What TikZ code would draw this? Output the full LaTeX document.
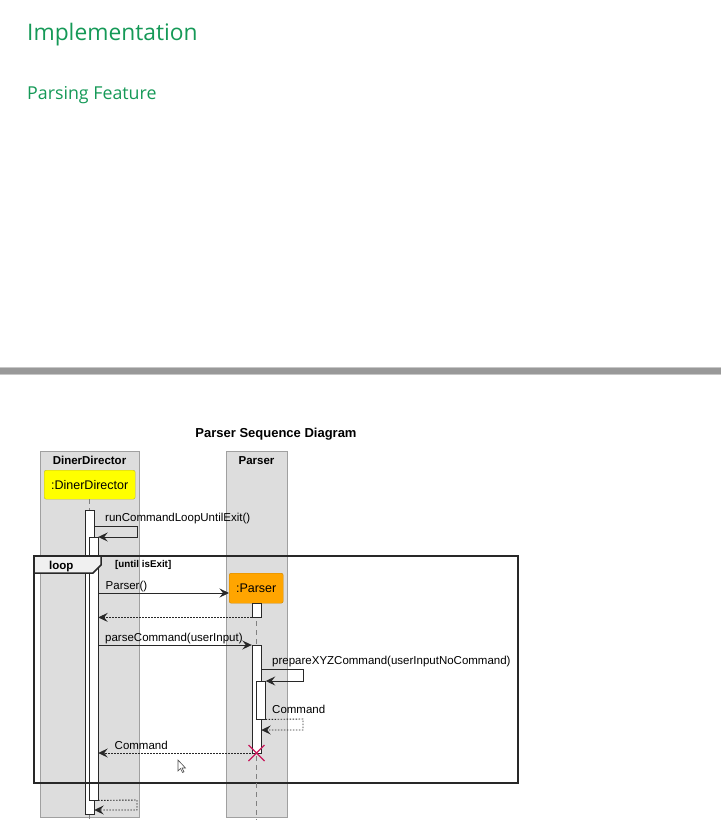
\documentclass[tikz,border=0pt]{standalone}
\usepackage{fontspec}
\setmainfont{Liberation Sans}
\newfontfamily\headfont{Open Sans}
\usetikzlibrary{arrows.meta,positioning}
\definecolor{cayman}{HTML}{159957}
\definecolor{lanegray}{HTML}{DDDDDD}
\definecolor{laneline}{HTML}{A0A0A0}
\definecolor{umlred}{HTML}{C8185A}
\definecolor{umlline}{HTML}{282828}
\definecolor{umlorange}{HTML}{FFA500}
\definecolor{umlyellow}{HTML}{FFFF00}
\begin{document}
\begin{tikzpicture}[x=1pt,y=-1pt,
  lane/.style={draw=laneline,fill=lanegray,anchor=north west,inner sep=0},
  lanetitle/.style={font=\fontsize{11.5}{13}\selectfont\bfseries,anchor=base},
  actor/.style={draw,rounded corners=2pt,anchor=north west,inner sep=0,font=\fontsize{12.5}{14}\selectfont},
  act/.style={draw=umlline,fill=white,anchor=north,minimum width=9,inner sep=0},
  msgtext/.style={font=\fontsize{11.5}{13}\selectfont,anchor=base west,inner sep=0},
  call/.style={draw=umlline,line width=0.9pt,-{Stealth[length=9.5pt,width=9pt,inset=3.5pt]}},
  reply/.style={call,dash pattern=on 1.5pt off 1.5pt},
  life/.style={draw=gray,dash pattern=on 5pt off 4pt}]
\useasboundingbox (0,0) rectangle (721,833);

\node[anchor=base west,inner sep=0,text=cayman,font=\headfont\fontsize{22.8}{27}\selectfont] (h1) at (27,40.5) {Implementation};
\node[anchor=base west,inner sep=0,text=cayman,font=\headfont\fontsize{17.8}{21}\selectfont] (h2) at (27,99.5) {Parsing Feature};
\fill[black!22] (0,367) rectangle (721,375);
\fill[black!40] (0,368) rectangle (721,374);

\node[anchor=base,inner sep=0,font=\fontsize{13}{15}\selectfont\bfseries] (title) at (276,437) {Parser Sequence Diagram};
\node[lane,minimum width=99,minimum height=366] (ddlane) at (40,451) {};
\node[lane,minimum width=61,minimum height=366] (prlane) at (226,451) {};
\node[lanetitle] (ddtitle) at (89.5,464) {DinerDirector};
\node[lanetitle] (prtitle) at (256.5,464) {Parser};
\node[actor,fill=umlyellow,draw=yellow!70!black,minimum width=91,minimum height=29] (dd) at (44,470) {:DinerDirector};

\draw[life] (dd.south -| 89.5,0) -- (89.5,820);
\node[act,minimum height=304] (actdd) at (89.5,510) {};
\node[act,minimum height=263] (actddin) at (93.5,537) {};
\draw[call] (actdd.east |- 0,526) -- (137,526) -- (137,537) -- (actddin.north east);
\node[msgtext] (m1) at (105,521.5) {runCommandLoopUntilExit()};

\draw[umlline,line width=1.5pt,fill=black!6] (34,556) -- (101,556) -- (101,565) -- (93,573) -- (34,573);
\draw[umlline,line width=1.5pt] (34,556) rectangle (518,783);
\node[anchor=base west,inner sep=0,font=\fontsize{11.5}{13}\selectfont\bfseries] (loop) at (49,569) {loop};
\node[anchor=base west,inner sep=0,font=\fontsize{9.8}{11}\selectfont\bfseries] (guard) at (115,567) {[until isExit]};

\node[actor,fill=umlorange,draw=umlorange!80!black,minimum width=54,minimum height=30] (pr) at (229,573) {:Parser};
\draw[life] (pr.south -| 256.5,0) -- (256.5,820);
\node[act,minimum height=14] (actpr0) at (256.5,603) {};
\draw[call] (actddin.east |- 0,593) -- (pr.west |- 0,593);
\node[msgtext] (m2) at (105.5,589) {Parser()};
\draw[reply] (actpr0.south west) -- (actddin.east |- actpr0.south);

\node[act,minimum height=108] (actpr) at (256.5,645) {};
\draw[call] (actddin.east |- actpr.north) -- (actpr.north west);
\node[msgtext] (m3) at (105,641) {parseCommand(userInput)};

\node[act,minimum height=38] (actprin) at (261,681) {};
\draw[call] (actpr.east |- 0,669) -- (303,669) -- (303,681) -- (actprin.north east);
\node[msgtext] (m4) at (272,664) {prepareXYZCommand(userInputNoCommand)};
\draw[reply] (actprin.south east) -- (303,719) -- (303,730) -- (actpr.east |- 0,730);
\node[msgtext] (m5) at (272,713) {Command};

\coordinate (kill) at (256.5,753);
\draw[reply] (kill) -- (actddin.east |- kill);
\node[msgtext] (m6) at (114.5,749) {Command};
\draw[umlred,line width=1.3pt] ([shift={(-8,-8)}]kill) -- ([shift={(8,8)}]kill)
  ([shift={(-8,8)}]kill) -- ([shift={(8,-8)}]kill);

\draw[reply] (actddin.south east) -- (137,800) -- (137,810) -- (actdd.east |- 0,810);

\draw[black!70,fill=white,line width=0.6pt] (178,760) -- (178,771) -- (180.5,768.5) -- (182.5,772.5) -- (184,771.8) -- (182,768) -- (185.5,768) -- cycle;
\end{tikzpicture}
\end{document}
